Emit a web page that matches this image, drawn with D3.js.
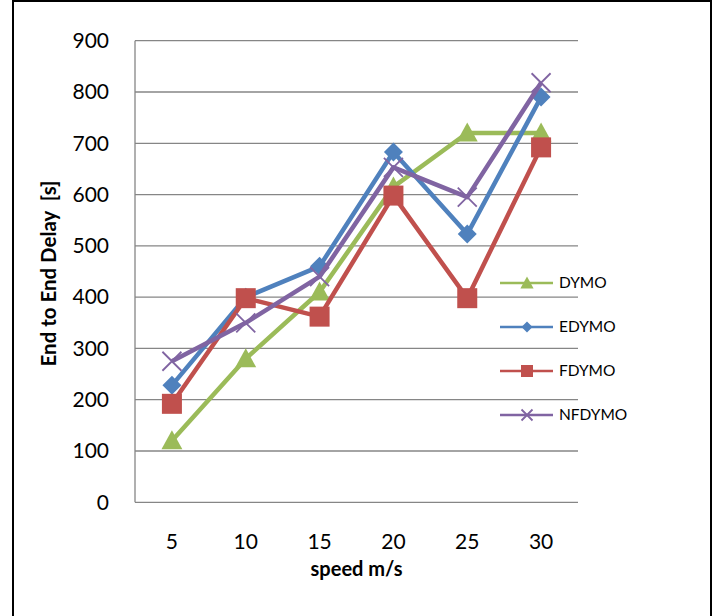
<!DOCTYPE html>
<html><head><meta charset="utf-8">
<script src="https://cdn.jsdelivr.net/npm/d3@7"></script>
<style>body{margin:0;background:#fff;}svg{display:block;}</style>
</head><body>
<svg id="chart" width="718" height="616"></svg>
<script>
const categories = ["5","10","15","20","25","30"];
const yTicks = [0,100,200,300,400,500,600,700,800,900];
const seriesNames = ["DYMO","EDYMO","FDYMO","NFDYMO"];
const seriesColors = ["#9BBB59","#4F81BD","#C0504D","#8064A2"];
const seriesMarkers = ["triangle","diamond","square","cross"];
const dymo   = [120, 280, 410, 615, 720, 720];
const edymo  = [228, 400, 460, 683, 523, 790];
const fdymo  = [192, 398, 362, 598, 398, 692];
const nfdymo = [275, 350, 440, 653, 595, 818];
const seriesValues = [dymo, edymo, fdymo, nfdymo];

const svg = d3.select("#chart");
const font = "Lato, 'Open Sans', sans-serif";
// outer border
svg.append("rect").attr("x",13).attr("y",1).attr("width",698).attr("height",640)
  .attr("fill","#fff").attr("stroke","#000").attr("stroke-width",2);

const pL=135, pR=578, pT=40.7, pB=502.3;
const x = d3.scaleBand().domain(categories).range([pL,pR]);
const y = d3.scaleLinear().domain([0,900]).range([pB,pT]);

// gridlines
svg.append("g").selectAll("line").data(yTicks).join("line")
  .attr("x1",pL).attr("x2",pR).attr("y1",d=>y(d)).attr("y2",d=>y(d))
  .attr("stroke","#868686").attr("stroke-width",1.3);
// y axis line
svg.append("line").attr("x1",pL).attr("x2",pL).attr("y1",pT).attr("y2",pB)
  .attr("stroke","#868686").attr("stroke-width",1.3);

// y tick labels
const yAxis = d3.axisLeft(y).tickValues(yTicks).tickSize(0).tickPadding(26);
const gy = svg.append("g").attr("transform",`translate(${pL},0)`).call(yAxis);
gy.select(".domain").remove();
gy.selectAll("text").attr("font-family",font).attr("font-size",21).attr("fill","#000");

// x tick labels
const xAxis = d3.axisBottom(x).tickSize(0).tickPadding(32);
const gx = svg.append("g").attr("transform",`translate(0,${pB})`).call(xAxis);
gx.select(".domain").remove();
gx.selectAll("text").attr("font-family",font).attr("font-size",21).attr("fill","#000");

// axis titles (font size fitted to the reference's text length)
function fit(sel, target){
  const len = sel.node().getComputedTextLength();
  if(len>0) sel.attr("font-size", 17*target/len);
}
const xt = svg.append("text").attr("x",(pL+pR)/2).attr("y",576).attr("text-anchor","middle")
  .attr("font-family",font).attr("font-weight","bold").attr("font-size",17).text("speed m/s");
fit(xt, 92);
const yt = svg.append("text").attr("transform",`translate(56,273.5) rotate(-90)`)
  .attr("text-anchor","middle").attr("font-family",font).attr("font-weight","bold")
  .attr("font-size",17).attr("xml:space","preserve").text("End to End Delay  [s]");
fit(yt, 186);

function drawMarker(g, type, cx, cy, color, s){
  if(type==="triangle"){
    g.append("path").attr("d",`M${cx},${cy-s*0.55} L${cx+s*0.55},${cy+s*0.45} L${cx-s*0.55},${cy+s*0.45} Z`).attr("fill",color);
  } else if(type==="diamond"){
    g.append("path").attr("d",`M${cx},${cy-s/2} L${cx+s/2},${cy} L${cx},${cy+s/2} L${cx-s/2},${cy} Z`).attr("fill",color);
  } else if(type==="square"){
    g.append("rect").attr("x",cx-s/2).attr("y",cy-s/2).attr("width",s).attr("height",s).attr("fill",color);
  } else {
    g.append("path").attr("d",`M${cx-s/2},${cy-s/2} L${cx+s/2},${cy+s/2} M${cx+s/2},${cy-s/2} L${cx-s/2},${cy+s/2}`)
      .attr("stroke",color).attr("stroke-width",1.8).attr("fill","none");
  }
}
const markerSize = {triangle:19, diamond:19, square:20, cross:19};
const line = d3.line().x((d,i)=>x(categories[i])+x.bandwidth()/2).y(d=>y(d));

seriesValues.forEach((vals,si)=>{
  const g = svg.append("g");
  g.append("path").datum(vals).attr("d",line).attr("fill","none")
    .attr("stroke",seriesColors[si]).attr("stroke-width",4.5).attr("stroke-linejoin","round");
  vals.forEach((v,i)=>{
    drawMarker(g, seriesMarkers[si], x(categories[i])+x.bandwidth()/2, y(v), seriesColors[si], markerSize[seriesMarkers[si]]);
  });
});

// legend
const legendY = [283, 327, 371, 415];
const legendMk = {triangle:12, diamond:11, square:12, cross:11};
seriesNames.forEach((name,si)=>{
  const g = svg.append("g");
  const ly = legendY[si];
  g.append("line").attr("x1",500).attr("x2",553).attr("y1",ly).attr("y2",ly)
    .attr("stroke",seriesColors[si]).attr("stroke-width",2.5);
  drawMarker(g, seriesMarkers[si], 527, ly, seriesColors[si], legendMk[seriesMarkers[si]]);
  g.append("text").attr("x",559).attr("y",ly).attr("dy","0.35em")
    .attr("font-family",font).attr("font-size",15.5).attr("fill","#000").text(name);
});
</script>
</body></html>
